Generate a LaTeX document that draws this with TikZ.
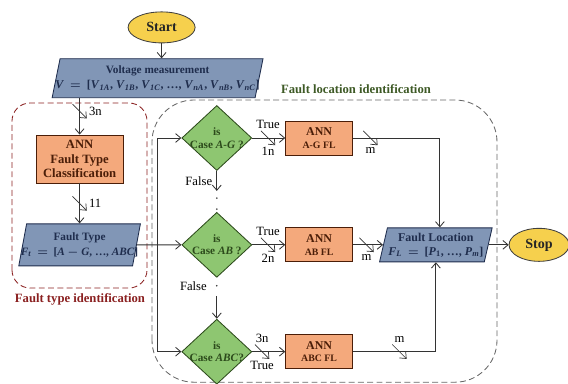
\documentclass[tikz,border=0pt]{standalone}
\usepackage{fontspec}
\setmainfont{Liberation Serif}
\usepackage{amsmath}
\usetikzlibrary{arrows.meta,shapes.geometric,positioning}

\definecolor{termfill}{HTML}{F6D04D}
\definecolor{iofill}{HTML}{8196B6}
\definecolor{iotext}{HTML}{1F2D4D}
\definecolor{annfill}{HTML}{F4A97C}
\definecolor{anntext}{HTML}{4B1E08}
\definecolor{casefill}{HTML}{8EC671}
\definecolor{casetext}{HTML}{2C4A1B}
\definecolor{typered}{HTML}{8A2020}
\definecolor{locgreen}{HTML}{3E5A26}
\definecolor{wire}{HTML}{333333}

% subscripted symbols in text italics
\newcommand{\Vph}[1]{\textit{V}\textsubscript{\textit{#1}}}
\newcommand{\Vvec}{\textit{V}~~$=$~~[\Vph{1A}, \Vph{1B}, \Vph{1C}, \ldots, \Vph{nA}, \Vph{nB}, \Vph{nC}]}
\newcommand{\Ftvec}{\textit{F}\textsubscript{\textit{t}}~~$=$~~[\textit{A} $-$ \textit{G}, \ldots, \textit{ABC}]}
\newcommand{\FLvec}{\textit{F}\textsubscript{\textit{L}}~~$=$~~[\textit{P}\textsubscript{1}, \ldots, \textit{P}\textsubscript{\textit{m}}]}

\begin{document}
\begin{tikzpicture}[
    node distance=0.5cm,
    term/.style={ellipse, draw=black!75, line width=0.6pt, fill=termfill, text=black!85, minimum width=1.675cm, minimum height=0.775cm, font=\fontsize{10}{12}\selectfont\bfseries},
    io/.style={trapezium, trapezium left angle=74, trapezium right angle=106, trapezium stretches=true, draw=iotext, line width=0.6pt, fill=iofill, text=iotext, align=center, inner ysep=1pt, inner xsep=-0.15cm, font=\fontsize{8}{10.5}\selectfont\bfseries\boldmath},
    ann/.style={rectangle, draw=anntext, line width=0.6pt, fill=annfill, text=anntext, align=center, font=\fontsize{9}{10.5}\selectfont\bfseries},
    annfl/.style={ann, minimum width=1.675cm, minimum height=0.85cm, inner sep=1pt, font=\fontsize{8.5}{9}\selectfont\bfseries},
    case/.style={diamond, draw=casetext, line width=0.6pt, fill=casefill, text=casetext, align=center, inner sep=-0.12cm, minimum width=1.75cm, minimum height=1.625cm, font=\fontsize{8}{9}\selectfont\bfseries},
    arrow/.style={-{Straight Barb[length=1.3mm, width=2.2mm]}, draw=wire, line width=0.6pt},
    busmark/.style={minimum size=0.36cm, inner sep=0pt, path picture={\draw[wire, line width=0.5pt] (path picture bounding box.north west) -- (path picture bounding box.south east);}},
    tag/.style={font=\fontsize{9}{10}\selectfont, inner sep=1pt, text=black},
    dot/.style={circle, fill=wire, inner sep=0pt, minimum size=1.3pt},
    zone/.style={dash pattern=on 4.2pt off 2.4pt, line width=0.6pt},
    zonetitle/.style={font=\fontsize{9}{10}\selectfont\bfseries}
]
    \useasboundingbox (0,0) rectangle (14.2,9.575);

    % dashed groups
    \draw[zone, draw=typered, rounded corners=0.45cm] (0.3,2.375) rectangle (3.675,7.0);
    \node[zonetitle, text=typered] (typetitle) at (2.0,2.1) {Fault type identification};
    \draw[zone, draw=black!60, rounded corners=1.05cm] (3.8,0.02) rectangle (12.425,7.075);
    \node[zonetitle, text=locgreen] (loctitle) at (8.9,7.35) {Fault location identification};

    % measurement and fault type
    \node[term] (start) at (4.04,8.89) {Start};
    \node[io, minimum width=5.275cm, minimum height=0.975cm, below=0.375cm of start, xshift=-1mm] (volt) {Voltage measurement\\{\fontsize{8.5}{10}\selectfont\Vvec}};
    \node[ann, minimum width=2.175cm, minimum height=1.2cm] (ftc) at (1.99,5.6) {ANN\\Fault Type\\Classification};
    \node[io, minimum width=3.05cm, minimum height=1.05cm, below=1.0cm of ftc] (ftype) {Fault Type\\\Ftvec};

    % case checks
    \node[case] (ag) at (5.42,6.125) {is\\Case \textit{A-G} ?};
    \node[case, below=1.025cm of ag] (ab) {is\\Case \textit{AB} ?};
    \node[case, below=1.025cm of ab] (abc) {is\\Case \textit{ABC}?};

    \node[annfl, right=0.825cm of ag] (agfl) {ANN\\{\fontsize{7}{8}\selectfont A-G FL}};
    \node[annfl, right=0.825cm of ab] (abfl) {ANN\\{\fontsize{7}{8}\selectfont AB FL}};
    \node[annfl, right=0.825cm of abc] (abcfl) {ANN\\{\fontsize{7}{8}\selectfont ABC FL}};

    \node[io, trapezium left angle=76, trapezium right angle=104, minimum width=2.825cm, minimum height=0.85cm, right=0.75cm of abfl, font=\fontsize{8.5}{10}\selectfont\bfseries\boldmath] (floc) {Fault Location\\\FLvec};
    \node[term, minimum width=1.5cm, minimum height=0.825cm, right=0.5cm of floc] (stop) {Stop};

    % connections
    \draw[arrow] (start.south) -- (start.south |- volt.north);
    \draw[arrow] (ftc.north |- volt.south) -- node[busmark, pos=0.36, label={[tag]right:3n}] (bus3n) {} (ftc.north);
    \draw[arrow] (ftc.south) -- node[busmark, pos=0.5, label={[tag]right:11}] (bus11) {} (ftc.south |- ftype.north);
    \draw[arrow] (ftype.east) -- (ab.west);

    \coordinate (rail) at (3.93,3.475);
    \draw[arrow] (rail) |- (ag.west);
    \draw[arrow] (rail) |- (abc.west);

    \draw[arrow] (ag.east) -- node[busmark, pos=0.48, label={[tag]above:True}, label={[tag]below:1n}] (bus1n) {} (agfl.west);
    \draw[arrow] (ab.east) -- node[busmark, pos=0.48, label={[tag]above:True}, label={[tag]below:2n}] (bus2n) {} (abfl.west);
    \draw[arrow] (abc.east) -- node[busmark, pos=0.3, label={[tag]above:3n}, label={[tag]below:True}] (bus3nc) {} (abcfl.west);

    \draw[arrow] (ag.south) -- node[tag, left=2pt] (falseag) {False} ++(0,-0.5) coordinate (agend);
    \node[dot, below=0.15cm of agend] (gap1) {};
    \node[dot, above=0.04cm of ab.north] (gap2) {};
    \node[dot, below=0.17cm of ab.south] (gap3) {};
    \node[tag, left=0.18cm of gap3] (falseab) {False};
    \draw[arrow] ([yshift=-0.45cm]ab.south) -- (abc.north);

    \draw[arrow] (agfl.east) -| node[busmark, pos=0.1, label={[tag]below:m}] (busmag) {} (floc.top side);
    \draw[arrow] (abfl.east) -- node[busmark, pos=0.45, label={[tag]below:m}] (busmab) {} (floc.west);
    \draw[arrow] (abcfl.east) -| node[busmark, pos=0.28, label={[tag]above:m}] (busmabc) {} (floc.south);
    \draw[arrow] (floc.east) -- (stop.west);
\end{tikzpicture}
\end{document}
